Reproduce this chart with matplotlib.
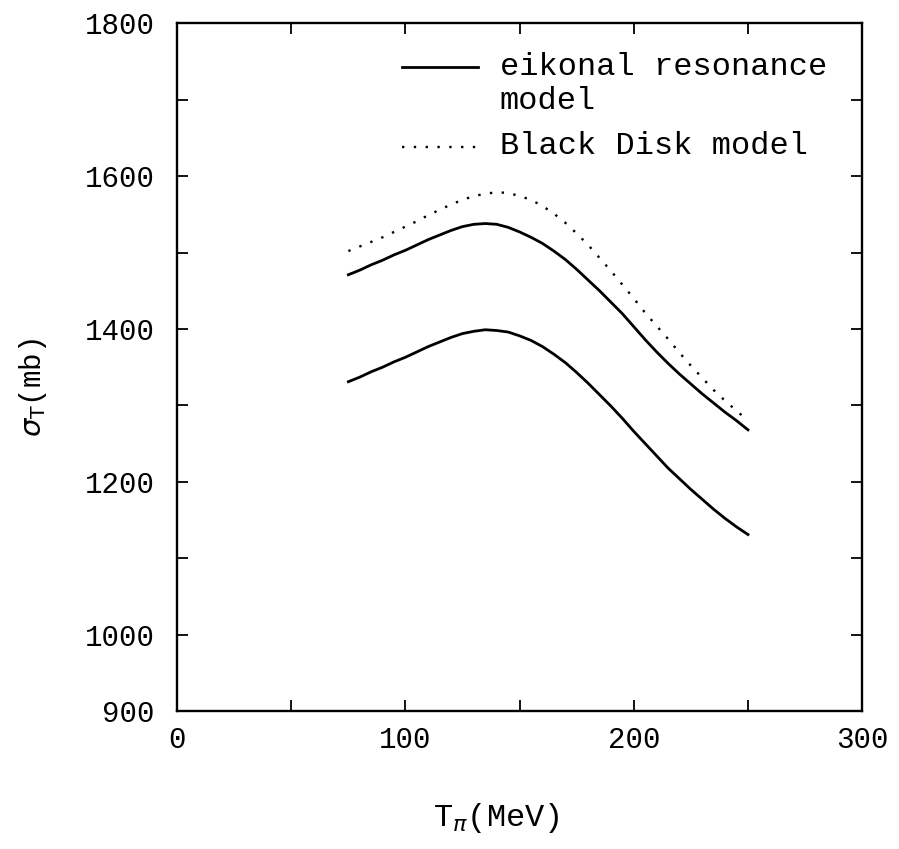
import matplotlib.pyplot as plt

# data (T_pi in MeV, sigma_T in mb)
t_pi = [75, 80, 85, 90, 95, 100, 105, 110, 115, 120, 125, 130, 135, 140, 145, 150, 155, 160,
        165, 170, 175, 180, 185, 190, 195, 200, 205, 210, 215, 220, 225, 230, 235, 240, 245, 250]
sigma_eik_upper = [1471, 1477, 1484, 1490, 1497, 1503, 1510, 1517, 1523, 1529, 1534, 1537,
                   1538, 1537, 1533, 1527, 1520, 1512, 1502, 1491, 1478, 1464, 1450, 1435,
                   1420, 1403, 1386, 1370, 1355, 1341, 1328, 1315, 1303, 1291, 1280, 1268]
sigma_eik_lower = [1331, 1337, 1344, 1350, 1357, 1363, 1370, 1377, 1383, 1389, 1394, 1397,
                   1399, 1398, 1396, 1391, 1385, 1377, 1367, 1356, 1343, 1329, 1314, 1299,
                   1283, 1266, 1250, 1234, 1218, 1204, 1190, 1177, 1164, 1152, 1141, 1131]
sigma_black_disk = [1502, 1508, 1514, 1520, 1527, 1534, 1541, 1549, 1556, 1563, 1569, 1574,
                    1577, 1579, 1578, 1574, 1569, 1561, 1551, 1539, 1525, 1510, 1493, 1476,
                    1458, 1440, 1421, 1404, 1387, 1369, 1352, 1336, 1320, 1306, 1293, 1280]

x_ticks = [0, 100, 200, 300]
y_ticks = [900, 1000, 1200, 1400, 1600, 1800]

mono = 'Liberation Mono'

fig = plt.figure(figsize=(8.99, 8.49), dpi=100)
ax = fig.add_axes([0.197, 0.1625, 0.762, 0.810])

ax.plot(t_pi, sigma_eik_upper, color='black', lw=2)
ax.plot(t_pi, sigma_eik_lower, color='black', lw=2)
ax.plot(t_pi, sigma_black_disk, color='black', lw=1.7, ls=(0, (1, 4)))

ax.set_xlim(0, 300)
ax.set_ylim(900, 1800)
ax.set_xticks(x_ticks)
ax.set_xticks(range(0, 301, 50), minor=True)
ax.set_yticks(y_ticks)
ax.set_yticks(range(900, 1801, 100), minor=True)
ax.tick_params(which='both', direction='in', top=True, right=True, width=1.3, length=8)
ax.tick_params(axis='x', which='major', labelsize=21, pad=11)
ax.tick_params(axis='y', which='major', labelsize=21, pad=16)
for lab in ax.get_xticklabels() + ax.get_yticklabels():
    lab.set_family(mono)
for s in ax.spines.values():
    s.set_linewidth(1.7)

# legend drawn by hand to keep the two-line label
ax.plot([0.329, 0.439], [0.937, 0.937], color='black', lw=2, transform=ax.transAxes)
ax.text(0.471, 0.937, 'eikonal resonance', transform=ax.transAxes, va='center',
        family=mono, fontsize=23)
ax.text(0.471, 0.887, 'model', transform=ax.transAxes, va='center',
        family=mono, fontsize=23)
ax.plot([0.329, 0.439], [0.820, 0.820], color='black', lw=1.7, ls=(0, (1, 4)),
        transform=ax.transAxes)
ax.text(0.471, 0.822, 'Black Disk model', transform=ax.transAxes, va='center',
        family=mono, fontsize=23)

fig.text(0.482, 0.037, r'T$_{\pi}$(MeV)', ha='left', va='center', family=mono, fontsize=23)
fig.text(0.037, 0.543, r'$\sigma_\mathrm{T}$(mb)', ha='center', va='center', rotation=90,
         family=mono, fontsize=21)

fig.savefig('out.png', dpi=100)
